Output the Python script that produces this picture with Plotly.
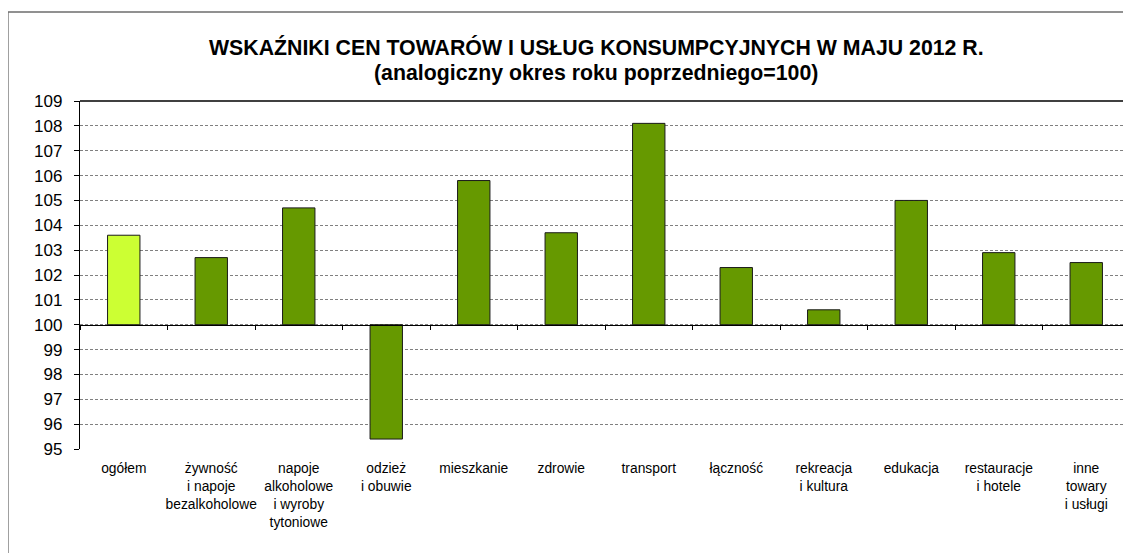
import plotly.graph_objects as go

categories = [
    "ogółem",
    "żywność<br>i napoje<br>bezalkoholowe",
    "napoje<br>alkoholowe<br>i wyroby<br>tytoniowe",
    "odzież<br>i obuwie",
    "mieszkanie",
    "zdrowie",
    "transport",
    "łączność",
    "rekreacja<br>i kultura",
    "edukacja",
    "restauracje<br>i hotele",
    "inne<br>towary<br>i usługi",
]
values = [103.6, 102.7, 104.7, 95.4, 105.8, 103.7, 108.1, 102.3, 100.6, 105.0, 102.9, 102.5]
base_value = 100
bar_colors = ["#CCFF33"] + ["#669900"] * 11
y_ticks = list(range(95, 110))

title_line1 = "WSKAŹNIKI CEN TOWARÓW I USŁUG KONSUMPCYJNYCH W MAJU 2012 R."
title_line2 = "(analogiczny okres roku poprzedniego=100)"

FONT = "Liberation Sans, Arial, sans-serif"

fig = go.Figure()
fig.add_trace(go.Bar(
    x=categories,
    y=[v - base_value for v in values],
    base=base_value,
    width=0.37,
    marker=dict(color=bar_colors, line=dict(color="#1a1a1a", width=1)),
    showlegend=False,
    hoverinfo="skip",
))
# invisible trace to carry the secondary axis drawn at y = 100
fig.add_trace(go.Scatter(
    x=categories, y=[base_value] * len(categories), xaxis="x2", yaxis="y",
    mode="markers", marker=dict(opacity=0), showlegend=False, hoverinfo="skip",
))

OFF = 8  # page body margin
W, H = 1131 - OFF, 553 - OFF
# screen-pixel layout of the plot area
pl, pr, pt, pb = 80, 1130, 101, 449
ml, mr, mt, mb = pl - OFF, W - (pr - OFF), pt - OFF, H - (pb - OFF)
pw, ph = W - ml - mr, H - mt - mb

def px_x(x):
    return (x - pl) / pw

def px_y(y):
    return 1 - (y - pt) / ph

ymin, ymax = 95, 109

fig.update_layout(
    width=W, height=H,
    margin=dict(l=ml, r=mr, t=mt, b=mb, autoexpand=False),
    paper_bgcolor="white", plot_bgcolor="white",
    font=dict(family=FONT, color="black"),
    bargap=0.63,
    xaxis=dict(
        type="category", showgrid=False, showline=False, zeroline=False,
        ticks="", tickfont=dict(size=13.8, family=FONT, color="black"),
        ticklabelstandoff=9, range=[-0.5, 11.5], automargin=False,
    ),
    xaxis2=dict(
        type="category", overlaying="x", matches="x", anchor="free",
        position=(base_value - ymin) / (ymax - ymin),
        showline=True, linecolor="black", linewidth=1.3,
        ticks="outside", tickson="boundaries", ticklen=4, tickcolor="black",
        showticklabels=False, showgrid=False, zeroline=False, side="bottom",
        automargin=False,
    ),
    yaxis=dict(
        range=[ymin, ymax], tickvals=y_ticks, ticktext=[str(t) for t in y_ticks],
        showline=True, linecolor="black", linewidth=1.3,
        ticks="outside", ticklen=5, tickcolor="black",
        tickfont=dict(size=17, family=FONT, color="black"),
        showgrid=True, gridcolor="#808080", gridwidth=1, griddash="3px,2px",
        zeroline=False, ticklabelstandoff=8, automargin=False,
    ),
    shapes=[
        # outer chart frame
        dict(type="rect", xref="paper", yref="paper",
             x0=px_x(8), x1=px_x(1131), y0=px_y(600), y1=px_y(12),
             line=dict(color="#6e6e6e", width=1.3), layer="below"),
        # top edge of plot area
        dict(type="line", xref="paper", yref="paper", x0=0, x1=1, y0=1, y1=1,
             line=dict(color="black", width=1.3)),
        # right edge of plot area
        dict(type="line", xref="paper", yref="paper", x0=1, x1=1, y0=0, y1=1,
             line=dict(color="#b0b0b0", width=1)),
    ],
    annotations=[
        dict(text="<b>" + title_line1 + "</b>", xref="paper", yref="paper",
             x=px_x(596), y=px_y(48), showarrow=False,
             font=dict(size=21.3, family=FONT, color="black"),
             xanchor="center", yanchor="middle"),
        dict(text="<b>" + title_line2 + "</b>", xref="paper", yref="paper",
             x=px_x(596), y=px_y(73), showarrow=False,
             font=dict(size=21.3, family=FONT, color="black"),
             xanchor="center", yanchor="middle"),
    ],
)

fig.write_html("out.html")
